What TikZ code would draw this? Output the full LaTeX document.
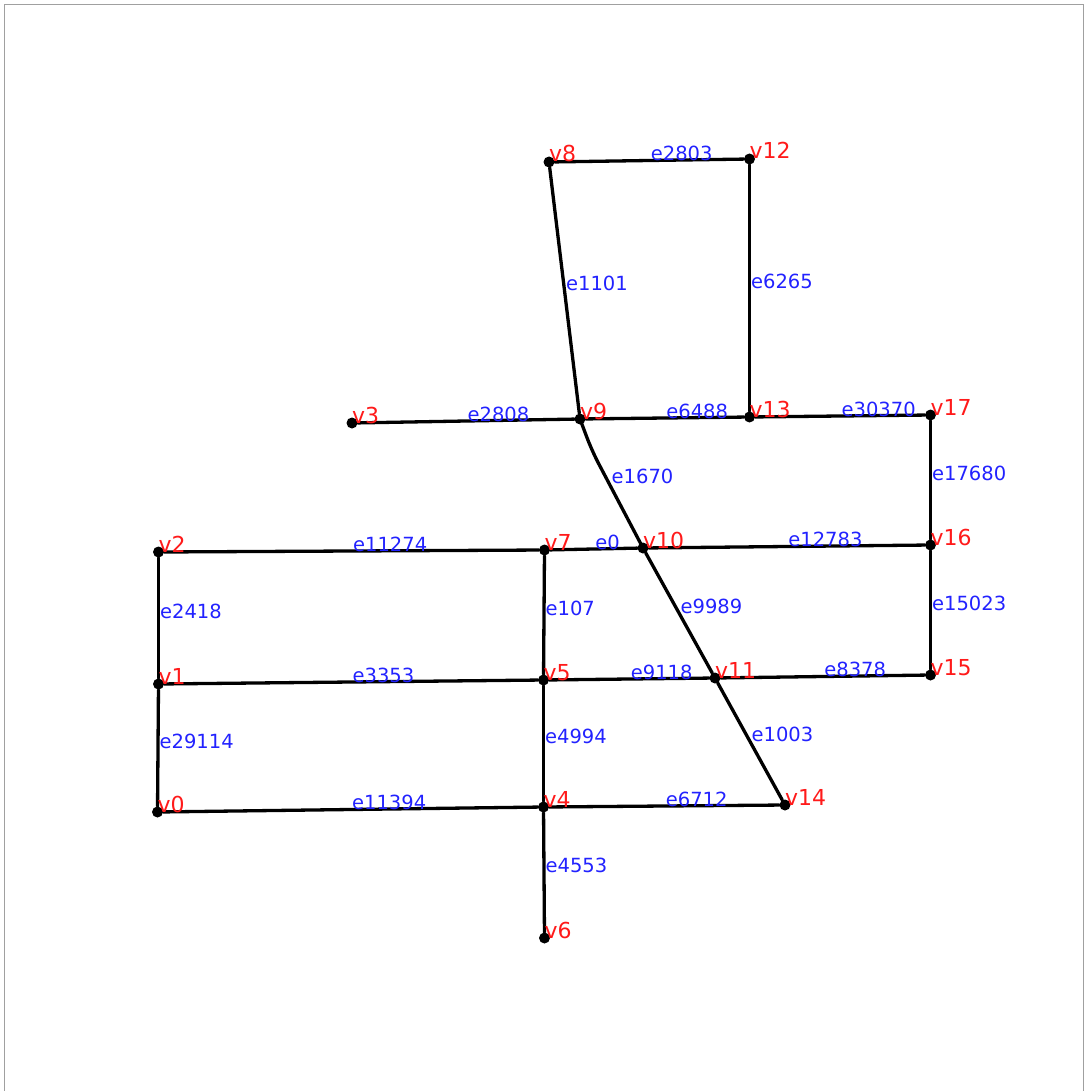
\documentclass[tikz,border=0pt]{standalone}
\usepackage{fontspec}
\setmainfont{DejaVu Sans}
\usepackage{tikz}
\usetikzlibrary{calc}
\definecolor{vred}{HTML}{FF1A1A}
\definecolor{eblue}{HTML}{2222FF}
\definecolor{frame}{HTML}{A0A0A0}
\tikzset{
  vertex/.style={circle,fill=black,draw=none,inner sep=0pt,minimum size=11pt},
  vlabel/.style={anchor=base west,inner sep=0pt,text=vred,font=\fontsize{22}{24}\selectfont},
  elabel/.style={anchor=base west,inner sep=0pt,text=eblue,font=\fontsize{19.5}{21}\selectfont},
  edge/.style={draw=black,line width=3.3pt,line cap=round,line join=round}
}
\begin{document}
\begin{tikzpicture}[x=1pt,y=-1pt]
  \useasboundingbox (0,0) rectangle (1086,1091);
  \draw[frame,line width=1.8pt] (4.5,1095) -- (4.5,4.5) -- (1083.5,4.5) -- (1083.5,1095);
  % vertices
  \node[vertex] (v0) at (157.5,812) {};
  \node[vertex] (v1) at (158.5,684) {};
  \node[vertex] (v2) at (158.5,552) {};
  \node[vertex] (v3) at (352,423) {};
  \node[vertex] (v4) at (543.5,807) {};
  \node[vertex] (v5) at (543.5,680) {};
  \node[vertex] (v6) at (544.5,938) {};
  \node[vertex] (v7) at (544.5,550) {};
  \node[vertex] (v8) at (549,162) {};
  \node[vertex] (v9) at (580,419) {};
  \node[vertex] (v10) at (643,548) {};
  \node[vertex] (v11) at (715,678) {};
  \node[vertex] (v12) at (749.5,159) {};
  \node[vertex] (v13) at (749.5,417) {};
  \node[vertex] (v14) at (785,805) {};
  \node[vertex] (v15) at (930.5,675) {};
  \node[vertex] (v16) at (930.5,545) {};
  \node[vertex] (v17) at (930.5,415) {};
  % edges
  \draw[edge] (v8) -- node[elabel]{e2803} (v12);
  \draw[edge] (v12) -- node[elabel]{e6265} (v13);
  \draw[edge] (v8) -- node[elabel]{e1101} (v9);
  \draw[edge] (v3) -- node[elabel]{e2808} (v9);
  \draw[edge] (v9) -- node[elabel]{e6488} (v13);
  \draw[edge] (v13) -- node[elabel]{e30370} (v17);
  \draw[edge] (v17) -- node[elabel]{e17680} (v16);
  \draw[edge,rounded corners=14pt] (v9.center) -- (592,451) -- (v10.center);
  \path (v9) -- node[elabel]{e1670} (v10);
  \draw[edge] (v2) -- node[elabel]{e11274} (v7);
  \draw[edge] (v7) -- node[elabel]{e0} (v10);
  \draw[edge] (v10) -- node[elabel]{e12783} (v16);
  \draw[edge] (v2) -- node[elabel]{e2418} (v1);
  \draw[edge] (v7) -- node[elabel]{e107} (v5);
  \draw[edge] (v10) -- node[elabel]{e9989} (v11);
  \draw[edge] (v16) -- node[elabel]{e15023} (v15);
  \draw[edge] (v1) -- node[elabel]{e3353} (v5);
  \draw[edge] (v5) -- node[elabel]{e9118} (v11);
  \draw[edge] (v11) -- node[elabel]{e8378} (v15);
  \draw[edge] (v1) -- node[elabel]{e29114} (v0);
  \draw[edge] (v5) -- node[elabel]{e4994} (v4);
  \draw[edge] (v11) -- node[elabel]{e1003} (v14);
  \draw[edge] (v0) -- node[elabel]{e11394} (v4);
  \draw[edge] (v4) -- node[elabel]{e6712} (v14);
  \draw[edge] (v4) -- node[elabel]{e4553} (v6);
  % vertex labels
  \foreach \v in {0,...,17}
    \node[vlabel] (l\v) at (v\v.center) {v\v};
\end{tikzpicture}
\end{document}
